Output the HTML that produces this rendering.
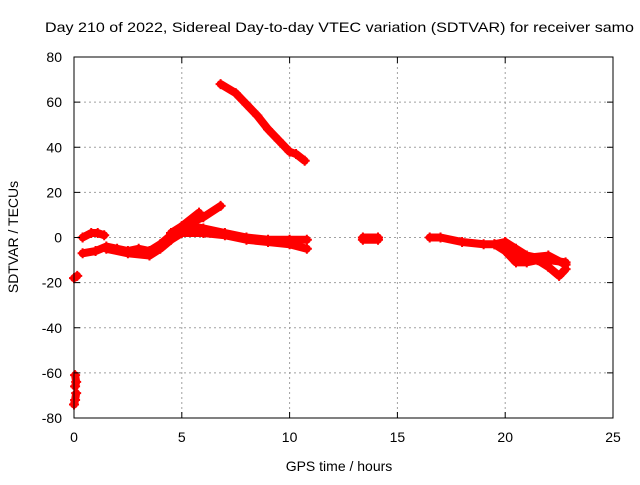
<!DOCTYPE html>
<html><head><meta charset="utf-8"><style>
body{margin:0;background:#fff;}
svg text{font-family:"Liberation Sans",sans-serif;font-size:14px;fill:#000;}
</style></head><body>
<svg id="chart" width="640" height="480">
<text x="45" y="32" textLength="589" lengthAdjust="spacingAndGlyphs">Day 210 of 2022, Sidereal Day-to-day VTEC variation (SDTVAR) for receiver samo</text>
<g id="grid"></g><g id="series"></g><g id="axes"></g>
<text x="339" y="471" text-anchor="middle">GPS time / hours</text>
<text transform="translate(18,237) rotate(-90)" text-anchor="middle">SDTVAR / TECUs</text>
</svg>
<script>
const xTicks=[0,5,10,15,20,25];
const yTicks=[80,60,40,20,0,-20,-40,-60,-80];
const seriesA=[[0.4,0],[0.8,2],[1.1,2],[1.4,1]];
const seriesB=[[0.4,-7],[1,-6],[1.5,-4],[2,-5],[2.5,-6],[3,-5],[3.5,-6],[4,-3],[4.5,1],[5,4],[5.5,5],[6,4],[7,2],[8,0],[9,-1],[10,-1],[10.8,-1]];
const seriesC=[[1.5,-5],[2.5,-7],[3.5,-8],[4,-5],[4.5,-1],[5,2],[6,2],[7,1],[8,-1],[9,-2],[10,-3],[10.8,-5]];
const seriesD=[[4.5,2],[5,5],[5.5,7],[6,9],[6.8,14]];
const seriesE=[[5,5],[5.8,11]];
const seriesF=[[6.8,68],[7.5,64],[8,59],[8.5,54],[9,48],[9.5,43],[10,38],[10.3,37],[10.7,34]];
const seriesG=[[0,-18],[0.15,-17]];
const seriesH=[[0.05,-61],[0.1,-64],[0.05,-66]];
const seriesI=[[0.1,-69],[0.05,-72],[0,-74]];
const seriesJ=[[13.4,0],[14.1,0],[14.1,-1],[13.4,-1]];
const seriesK=[[16.5,0],[17,0],[18,-2],[19,-3],[19.5,-3],[20,-2],[20.5,-5],[21,-8],[22,-10],[22.8,-11]];
const seriesL=[[19.5,-3],[20,-6],[20.5,-11],[21,-11],[21.5,-10],[22,-13],[22.5,-17],[22.8,-14]];
const seriesM=[[20,-2],[20.5,-8],[21,-9],[22,-8],[22.8,-12]];
const allSeries=[seriesA,seriesB,seriesC,seriesD,seriesE,seriesF,seriesG,seriesH,seriesI,seriesJ,seriesK,seriesL,seriesM];
const X0=74,X1=613,Y0=418,Y1=57;
const xs=v=>X0+(v-0)/25*(X1-X0);
const ys=v=>Y0-(v+80)/160*(Y0-Y1);
const NS="http://www.w3.org/2000/svg";
function mk(t,p,a){const e=document.createElementNS(NS,t);for(const k in a)e.setAttribute(k,a[k]);p.appendChild(e);return e;}
const grid=document.getElementById('grid'),axes=document.getElementById('axes'),ser=document.getElementById('series');
xTicks.forEach(t=>{const x=xs(t);
 if(t>0&&t<25){const l=mk('line',grid,{x1:x,x2:x,y1:Y1,y2:Y0,stroke:'#a0a0a0','stroke-dasharray':'2,3'});}
 mk('line',axes,{x1:x,x2:x,y1:Y0,y2:Y0-6,stroke:'#000'});mk('line',axes,{x1:x,x2:x,y1:Y1,y2:Y1+6,stroke:'#000'});
 const tx=mk('text',axes,{x:x,y:Y0+24,'text-anchor':'middle'});tx.textContent=t;});
yTicks.forEach(t=>{const y=ys(t);
 if(t>-80&&t<80){const l=mk('line',grid,{x1:X0,x2:X1,y1:y,y2:y,stroke:'#a0a0a0','stroke-dasharray':'2,3'});}
 mk('line',axes,{x1:X0,x2:X0+6,y1:y,y2:y,stroke:'#000'});mk('line',axes,{x1:X1,x2:X1-6,y1:y,y2:y,stroke:'#000'});
 const tx=mk('text',axes,{x:X0-12,y:y+5,'text-anchor':'end'});tx.textContent=t;});
const fr=mk('rect',axes,{x:X0,y:Y1,width:X1-X0,height:Y0-Y1,fill:'none',stroke:'#000'});

allSeries.forEach(s=>{
 const pl=mk('polyline',ser,{points:s.map(p=>xs(p[0])+','+ys(p[1])).join(' '),fill:'none',stroke:'#f00','stroke-width':8,'stroke-linejoin':'round','stroke-linecap':'round'});
 
 
 s.forEach(p=>{const x=xs(p[0]),y=ys(p[1]);
  const m=mk('path',ser,{d:`M${x-5},${y}H${x+5}M${x},${y-5}V${y+5}`,stroke:'#f00','stroke-width':2});
  
  });
});
</script>
</body></html>
